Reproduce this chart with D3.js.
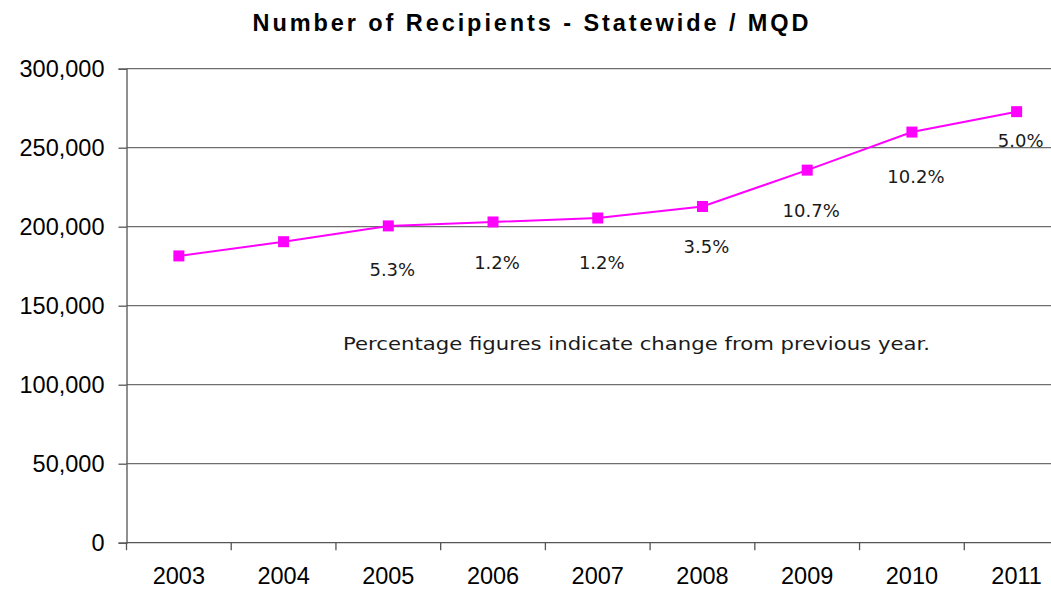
<!DOCTYPE html>
<html>
<head>
<meta charset="utf-8">
<script src="https://cdn.jsdelivr.net/npm/d3@7"></script>
<style>
  html, body { margin: 0; padding: 0; background: #fff; }
  svg { display: block; }
</style>
</head>
<body>
<svg id="chart" width="1051" height="591"></svg>
<script>
// ---- data ----
const years = ["2003", "2004", "2005", "2006", "2007", "2008", "2009", "2010", "2011"];
const recipients = [181500, 190500, 200500, 203000, 205500, 212800, 235800, 259900, 272800];
const pctLabels = [null, null, "5.3%", "1.2%", "1.2%", "3.5%", "10.7%", "10.2%", "5.0%"];
const yTicks = [0, 50000, 100000, 150000, 200000, 250000, 300000];
const titleText = "Number of Recipients - Statewide / MQD";
const noteText = "Percentage figures indicate change from previous year.";

(function () {
// ---- layout ----
const svg = d3.select("#chart");
const mLeft = 126.5, mRight = 1069, mTop = 68.7, mBottom = 542.7;

const x = d3.scaleBand().domain(years).range([mLeft, mRight]).padding(0);
const y = d3.scaleLinear().domain([0, 300000]).range([mBottom, mTop]);

const axisFont = "Arial, 'Liberation Sans', sans-serif";
const labelFont = "'DejaVu Sans', sans-serif";

// title
svg.append("text")
  .attr("x", 530.5).attr("y", 30.5)
  .attr("text-anchor", "middle")
  .attr("font-family", axisFont)
  .attr("font-weight", "bold")
  .attr("font-size", 23.5)
  .attr("textLength", 556)
  .attr("lengthAdjust", "spacing")
  .text(titleText);

// gridlines
svg.append("g")
  .selectAll("line")
  .data(yTicks.filter(d => d > 0))
  .join("line")
  .attr("x1", mLeft).attr("x2", mRight)
  .attr("y1", d => y(d)).attr("y2", d => y(d))
  .attr("stroke", "#6e6e6e").attr("stroke-width", 1.3);

// y axis
const yAxis = d3.axisLeft(y).tickValues(yTicks).tickSize(8).tickPadding(14)
  .tickFormat(d3.format(","));
const gy = svg.append("g").attr("transform", `translate(${mLeft},0)`).call(yAxis);
gy.select(".domain").attr("stroke", "#555").attr("stroke-width", 1.3);
gy.selectAll(".tick line").attr("stroke", "#555").attr("stroke-width", 1.3);
gy.selectAll(".tick text")
  .attr("font-family", axisFont).attr("font-size", 23.5).attr("fill", "#000")
  .attr("dy", "0.32em");

// x axis (ticks at category boundaries)
const gx = svg.append("g").attr("transform", `translate(0,${mBottom})`);
gx.append("line").attr("x1", mLeft).attr("x2", mRight).attr("y1", 0).attr("y2", 0)
  .attr("stroke", "#555").attr("stroke-width", 1.3);
const boundaries = years.map(d => x(d)).concat([x(years[years.length - 1]) + x.bandwidth()]);
gx.selectAll("line.tk").data(boundaries).join("line").attr("class", "tk")
  .attr("x1", d => d).attr("x2", d => d).attr("y1", 0).attr("y2", 7.5)
  .attr("stroke", "#555").attr("stroke-width", 1.3);
gx.selectAll("text").data(years).join("text")
  .attr("x", d => x(d) + x.bandwidth() / 2)
  .attr("y", 41.5)
  .attr("text-anchor", "middle")
  .attr("font-family", axisFont).attr("font-size", 23.5).attr("fill", "#000")
  .text(d => d);

// line
const cx = d => x(d) + x.bandwidth() / 2;
const line = d3.line().x((d, i) => cx(years[i])).y(d => y(d));
svg.append("path")
  .datum(recipients)
  .attr("d", line)
  .attr("fill", "none")
  .attr("stroke", "#ff00ff")
  .attr("stroke-width", 2);

// markers
const ms = 11;
svg.append("g").selectAll("rect").data(recipients).join("rect")
  .attr("x", (d, i) => cx(years[i]) - ms / 2)
  .attr("y", d => y(d) - ms / 2)
  .attr("width", ms).attr("height", ms)
  .attr("fill", "#ff00ff");

// percentage labels (placed below each point; last one tucked closer)
const labelDy = [49, 49, 50, 47, 51, 47, 47, 51, 35];
const labelData = years.map((yr, i) => ({ yr, v: recipients[i], t: pctLabels[i], dy: labelDy[i] }))
  .filter(d => d.t !== null);
svg.append("g").selectAll("text").data(labelData).join("text")
  .attr("x", d => cx(d.yr) + 4)
  .attr("y", d => y(d.v) + d.dy)
  .attr("text-anchor", "middle")
  .attr("font-family", labelFont).attr("font-size", 18).attr("fill", "#1a1a1a")
  .text(d => d.t);

// note
svg.append("text")
  .attr("x", 636.5).attr("y", 350)
  .attr("text-anchor", "middle")
  .attr("font-family", labelFont).attr("font-size", 17).attr("fill", "#1a1a1a")
  .attr("textLength", 587).attr("lengthAdjust", "spacingAndGlyphs")
  .text(noteText);
})();
</script>
</body>
</html>
